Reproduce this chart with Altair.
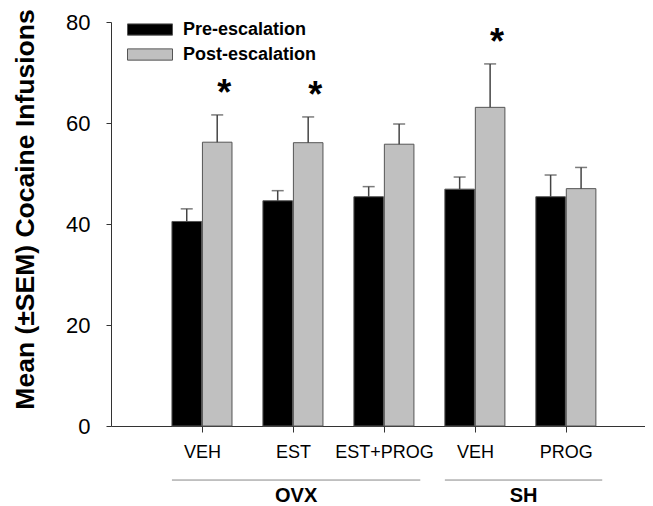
import json
import altair as alt
import pandas as pd

# ---- data ----
categories = ["VEH", "EST", "EST+PROG", "VEH", "PROG"]
pre_mean = [40.5, 44.6, 45.4, 46.9, 45.4]
pre_sem = [2.5, 2.0, 2.0, 2.4, 4.3]
post_mean = [56.2, 56.1, 55.8, 63.1, 47.0]
post_sem = [5.4, 5.1, 4.0, 8.6, 4.2]
significant = [True, True, False, True, False]
phases = ["Pre-escalation", "Post-escalation"]
groups = ["OVX", "SH"]
group_first = [1, 4]
group_last = [3, 5]
y_ticks = [0, 20, 40, 60, 80]

FONT = "Liberation Sans"
W, H = 534, 404

rows = []
for i, cat in enumerate(categories):
    for ph, m, s in ((phases[0], pre_mean[i], pre_sem[i]), (phases[1], post_mean[i], post_sem[i])):
        rows.append(dict(pos=i + 1, cat=cat, phase=ph, mean=m, upper=m + s,
                         sig=bool(significant[i] and ph == phases[1])))
df = pd.DataFrame(rows)

gdf = pd.DataFrame(dict(name=groups, first=group_first, last=group_last))

label_arr = json.dumps([""] + categories)

xscale = alt.Scale(domain=[0, 5.87], nice=False, zero=False)
yscale = alt.Scale(domain=[0, 80], nice=False)

base = alt.Chart(df).transform_calculate(
    x0=f"datum.pos + (datum.phase == '{phases[0]}' ? -0.33 : 0.005)"
).transform_calculate(
    x1="datum.x0 + 0.325", xc="datum.x0 + 0.1625"
)

bars = base.mark_bar(stroke="#555555", strokeWidth=1).encode(
    x=alt.X("x0:Q", scale=xscale, title=None,
            axis=alt.Axis(values=[1, 2, 3, 4, 5], labelExpr=f"{label_arr}[datum.value]",
                          tickSize=6, labelFontSize=18, labelFont=FONT, labelColor="black",
                          labelPadding=11, grid=False, domainColor="#333333", tickColor="#333333",
                          labelFlush=False, labelOverlap=False, title=None)),
    x2="x1:Q",
    y=alt.Y("mean:Q", scale=yscale,
            axis=alt.Axis(values=y_ticks, tickSize=5, labelFontSize=22, labelFont=FONT,
                          labelColor="black", labelPadding=16, grid=False,
                          domainColor="#333333", tickColor="#333333",
                          title="Mean (±SEM) Cocaine Infusions", titleFont=FONT,
                          titleFontSize=26.5, titleFontWeight="bold", titleColor="black",
                          titleX=-78, titleY=187, titleBaseline="alphabetic", titleAngle=270)),
    y2=alt.Y2(datum=0),
    color=alt.Color("phase:N", scale=alt.Scale(domain=phases, range=["#000000", "#c0c0c0"]),
                    legend=alt.Legend(orient="none", legendX=16, legendY=-5, title=None,
                                      symbolType="M-1,-0.25H1V0.25H-1Z", symbolSize=2025,
                                      symbolStrokeColor="#555555", symbolStrokeWidth=1,
                                      labelFont=FONT, labelFontSize=18, labelFontWeight="bold",
                                      labelColor="black", labelOffset=10, rowPadding=0,
                                      clipHeight=25)),
)

err = base.mark_rule(color="#444444", strokeWidth=1.5).encode(
    x=alt.X("xc:Q", scale=xscale), y=alt.Y("mean:Q", scale=yscale), y2="upper:Q"
)
caps = base.mark_tick(orient="horizontal", size=12, thickness=1.5, color="#444444").encode(
    x=alt.X("xc:Q", scale=xscale), y=alt.Y("upper:Q", scale=yscale)
)
stars = base.transform_filter("datum.sig").mark_text(
    text="*", font=FONT, fontSize=36, fontWeight="bold", baseline="alphabetic", dx=7, dy=-10, color="black"
).encode(x=alt.X("xc:Q", scale=xscale), y=alt.Y("upper:Q", scale=yscale))

gbase = alt.Chart(gdf).transform_calculate(
    start="datum.first - 0.33", end="datum.last + 0.4"
).transform_calculate(mid="(datum.start + datum.end) / 2")

grule = gbase.mark_rule(color="#888888", strokeWidth=1).encode(
    x=alt.X("start:Q", scale=xscale), x2="end:Q",
    y=alt.Y(datum=-10.7, scale=yscale)
)
gtext = gbase.mark_text(font=FONT, fontSize=20, fontWeight="bold", baseline="middle", color="black").encode(
    x=alt.X("mid:Q", scale=xscale), y=alt.Y(datum=-13.9, scale=yscale),
    text="name:N"
)

chart = alt.layer(bars, err, caps, stars, grule, gtext).properties(
    width=W, height=H,
    autosize=alt.AutoSizeParams(type="none"),
    padding={"left": 103, "top": 14, "right": 0, "bottom": 82},
).configure_view(stroke=None).configure_axis(domainWidth=1, tickWidth=1)

chart.save("out.html", embed_options={"renderer": "svg", "actions": False})
